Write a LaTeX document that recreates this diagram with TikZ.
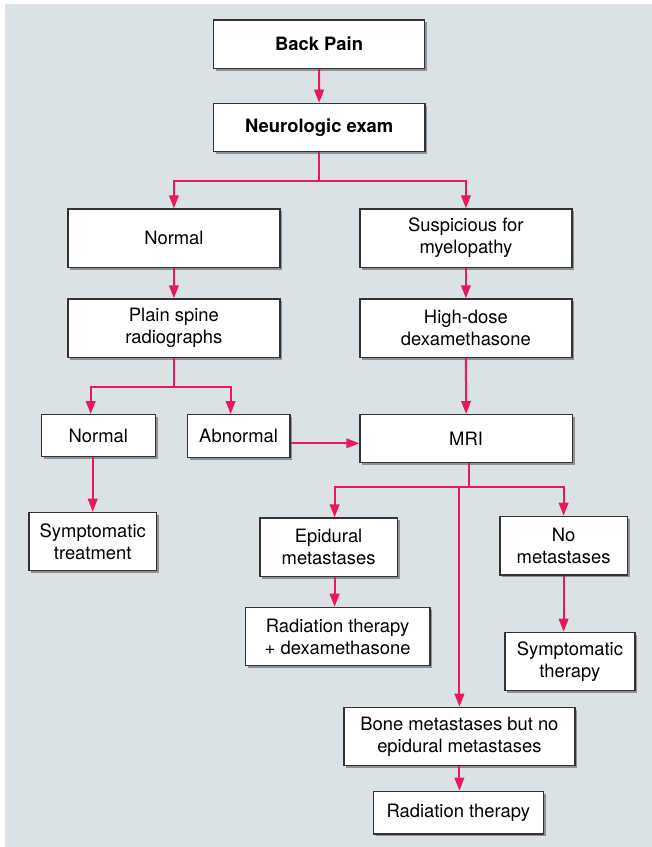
\documentclass[tikz,border=0pt]{standalone}
\usepackage{fontspec}
\setmainfont{TeX Gyre Heros}
\usepackage{xcolor}
\definecolor{crimson}{HTML}{E8185A}
\definecolor{backdrop}{HTML}{DBE2E6}
\definecolor{edgegray}{HTML}{333333}
\definecolor{shade}{HTML}{8E9296}
\usepackage{tikz}
\usetikzlibrary{arrows.meta,positioning,shadows}

\begin{document}
\begin{tikzpicture}[
  x=0.5pt,y=-0.5pt,
  box/.style={draw=edgegray,line width=0.6pt,fill=white,align=center,anchor=north west,inner sep=0pt,font=\fontsize{9.2}{11}\selectfont,drop shadow={shadow xshift=1.2pt,shadow yshift=-1.2pt,fill=shade,opacity=1}},
  arrow/.style={-{Triangle[length=6.5pt,width=4.8pt]},draw=crimson,line width=1pt},
  link/.style={draw=crimson,line width=1pt}
]
\useasboundingbox (0,0) rectangle (652,847);
\fill[backdrop] (5,4) rectangle (652,847);

% top of the chart
\node[box,minimum width=105.7pt,minimum height=24.2pt,font=\fontsize{9.2}{11}\selectfont\bfseries] (back) at (212.7,19.3) {Back Pain};
\node[box,minimum width=105.8pt,minimum height=24.2pt,font=\fontsize{9.2}{11}\selectfont\bfseries] (neuro) at (212.7,102.7) {Neurologic exam};
\node[box,minimum width=106pt,minimum height=29.2pt] (normA) at (67.3,208.3) {Normal};
\node[box,minimum width=106pt,minimum height=29.2pt] (susp) at (359.3,208.3) {Suspicious for\\myelopathy};
\node[box,minimum width=106pt,minimum height=29.2pt] (plain) at (67.3,298.3) {Plain spine\\radiographs};
\node[box,minimum width=106pt,minimum height=29.2pt] (dexa) at (359.3,298.3) {High-dose\\dexamethasone};

% middle row
\node[box,minimum width=57pt,minimum height=21pt] (normB) at (40.7,414) {Normal};
\node[box,minimum width=51.3pt,minimum height=21.3pt] (abn) at (186.7,414) {Abnormal};
\node[box,minimum width=106.2pt,minimum height=23.9pt] (mri) at (359.3,414) {MRI};
\node[box,minimum width=63.8pt,minimum height=29.2pt] (symtr) at (28.3,511.7) {Symptomatic\\treatment};

% results of MRI
\node[box,minimum width=68.7pt,minimum height=29.3pt] (epid) at (259.3,517.3) {Epidural\\metastases};
\node[box,minimum width=63.7pt,minimum height=29.3pt] (nomet) at (499.3,515.7) {No\\metastases};
\node[box,minimum width=92.3pt,minimum height=29.2pt] (raddex) at (244.7,606.7) {Radiation therapy\\+ dexamethasone};
\node[box,minimum width=65pt,minimum height=29.2pt] (symther) at (504.3,631.7) {Symptomatic\\therapy};
\node[box,minimum width=115.5pt,minimum height=29.2pt] (bone) at (343.3,706.7) {Bone metastases but no\\epidural metastases};
\node[box,minimum width=85pt,minimum height=21.3pt] (rad) at (372.7,790.7) {Radiation therapy};

% connectors
\coordinate (split1) at ([yshift=-14.15pt]neuro.south);
\coordinate (split2) at ([yshift=-14.3pt]plain.south);
\coordinate (split3) at (469,487.3);

\draw[arrow] (back) -- (neuro);
\draw[link] (neuro.south) -- (split1);
\draw[arrow] (split1) -| (normA);
\draw[arrow] (split1) -| (susp);
\draw[arrow] (normA) -- (plain);
\draw[arrow] (susp) -- (dexa);
\draw[arrow] (dexa) -- (mri);
\draw[link] (plain.south) -- (split2);
\draw[arrow] (split2) -| ([xshift=-3.8pt]normB.north);
\draw[arrow] (split2) -| ([xshift=-4pt]abn.north);
\draw[arrow] (normB.south -| symtr.north) -- (symtr.north);
\draw[arrow] ([yshift=-3.7pt]abn.east) -- ([yshift=-3.7pt]abn.east -| mri.west);
\draw[link] (mri.south -| split3) -- (split3);
\draw[arrow] (split3) -| ([xshift=3pt]epid.north);
\draw[arrow] (split3) -| (nomet);
\draw[arrow] (split3 -| bone.north) -- (bone.north);
\draw[arrow] ([xshift=3pt]epid.south) -- ([xshift=3pt]epid.south |- raddex.north);
\draw[arrow] (nomet.south) -- (nomet.south |- symther.north);
\draw[arrow] (bone.south) -- (bone.south |- rad.north);
\end{tikzpicture}
\end{document}
